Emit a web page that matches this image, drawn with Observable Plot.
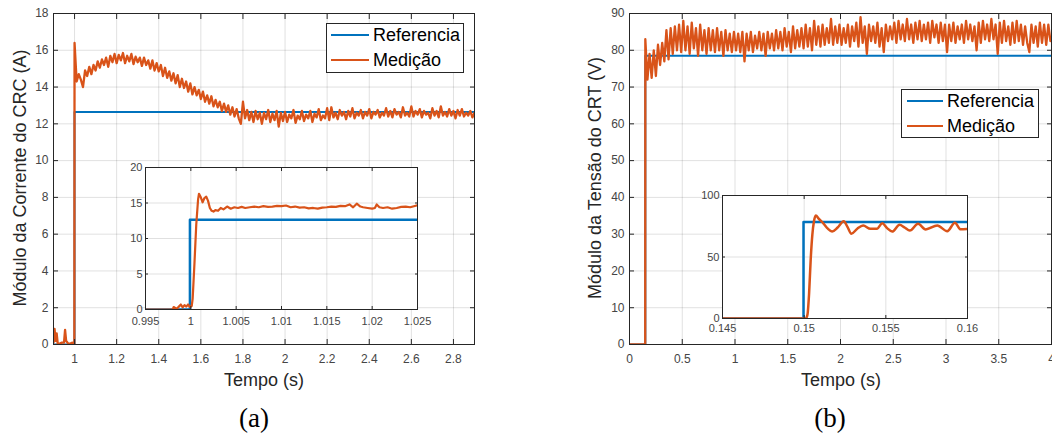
<!DOCTYPE html>
<html><head><meta charset="utf-8">
<script src="https://cdn.jsdelivr.net/npm/d3@7"></script>
<script src="https://cdn.jsdelivr.net/npm/@observablehq/plot@0.6"></script>
<style>
html,body{margin:0;padding:0;background:#fff;}
#wrap{position:relative;width:1052px;height:436px;overflow:hidden;font-family:"Liberation Sans",Arial,sans-serif;}
#wrap svg{position:absolute;max-width:none;}
.ylab{position:absolute;transform:translate(-50%,-50%) rotate(-90deg);white-space:nowrap;font-size:18px;color:#262626;line-height:1;}
.xlab{position:absolute;transform:translate(-50%,-50%);white-space:nowrap;font-size:18px;color:#262626;line-height:1;}
.cap{position:absolute;transform:translate(-50%,-50%);font-family:"Liberation Serif","Times New Roman",serif;font-size:27px;color:#000;line-height:1;}
.legend{position:absolute;background:#fff;border:1px solid #262626;box-sizing:border-box;}
.row{position:absolute;left:0;height:20px;display:flex;align-items:center;font-size:18px;color:#000;white-space:nowrap;}
.sw{display:inline-block;height:2.5px;margin-right:4px;}
</style></head><body><div id="wrap"></div>
<script>
// ---------- Panel (a): current ----------
const aXTicks = [1, 1.2, 1.4, 1.6, 1.8, 2, 2.2, 2.4, 2.6, 2.8];
const aYTicks = [0, 2, 4, 6, 8, 10, 12, 14, 16, 18];
const aRefT = [0.9, 0.9999, 0.9999, 2.9];
const aRefV = [0, 0, 12.65, 12.65];
const aMedPreT = [0.9, 0.905, 0.91, 0.915, 0.92, 0.93, 0.94, 0.95, 0.955, 0.96, 0.97, 0.98, 0.99, 0.999];
const aMedPreV = [0.1, 0.85, 0.2, 0.6, 0.05, 0.05, 0.1, 0.1, 0.8, 0.2, 0.05, 0.05, 0.1, 0.05];
const aMedStepT0 = 1.0, aMedStepDt = 0.01;
const aMedStepV = [
 16.4, 14.3, 14.7, 14.4, 14.0, 14.9, 14.6, 15.1, 14.7, 15.2,
 14.9, 15.4, 15.05, 15.5, 15.2, 15.6, 15.1, 15.7, 15.35, 15.8,
 15.3, 15.75, 15.45, 15.85, 15.3, 15.7, 15.4, 15.8, 15.25, 15.65,
 15.35, 15.6, 15.15, 15.6, 15.2, 15.45, 15.0, 15.45, 14.9, 15.3,
 14.85, 15.2, 14.6, 15.05, 14.5, 14.85, 14.35, 14.75, 14.2, 14.65,
 14.0, 14.45, 13.95, 14.3, 13.75, 14.2, 13.6, 14.0, 13.55, 13.85,
 13.35, 13.75, 13.2, 13.55, 13.1, 13.5, 12.95, 13.3, 12.9, 13.2,
 12.7, 13.1, 12.65, 13.0, 12.5, 12.9, 12.4, 12.8, 12.3, 12.0,
 13.2, 12.3, 12.75, 12.2, 12.65, 12.1, 12.7, 12.25, 12.6, 12.0,
 12.6, 12.25, 12.75, 12.1, 12.55, 12.2, 12.7, 11.85, 12.6, 12.15,
 12.65, 12.1, 12.5, 12.3, 12.75, 12.05, 12.45, 12.25, 12.7, 12.15,
 12.5, 12.3, 12.7, 12.1, 12.55, 12.35, 12.8, 12.2, 12.45, 12.3,
 12.85, 12.2, 12.9, 12.35, 12.6, 12.25, 12.75, 12.45, 12.65, 12.25,
 12.7, 12.4, 12.85, 12.3, 12.6, 12.45, 12.75, 12.3, 12.65, 12.45,
 12.8, 12.3, 12.65, 12.5, 12.75, 12.35, 12.6, 12.45, 12.85, 12.4,
 12.7, 12.35, 12.8, 12.5, 12.65, 12.35, 12.9, 12.45, 12.6, 12.4,
 12.95, 12.4, 12.7, 12.5, 12.8, 12.35, 12.7, 12.5, 12.6, 12.3,
 12.85, 12.45, 12.7, 12.35, 12.95, 12.45, 12.65, 12.4, 12.8, 12.45,
 12.7, 12.3, 12.75, 12.45, 12.8, 12.4, 12.6, 12.45, 12.7, 12.35,
 12.6];
// inset (a)
const aInsXTicks = [0.995, 1, 1.005, 1.01, 1.015, 1.02, 1.025];
const aInsYTicks = [0, 5, 10, 15, 20];
const aInsRefT = [0.995, 0.9999, 0.9999, 1.025];
const aInsRefV = [0, 0, 12.65, 12.65];
const aInsMedT = [0.995, 0.998, 0.9981, 0.9984, 0.9986, 0.9989, 0.9991, 0.9993, 0.9995, 0.9997, 0.9999, 1.0001, 1.0002, 1.0004, 1.0006, 1.0008, 1.0009, 1.0011, 1.0013, 1.0015, 1.0017, 1.0019, 1.0021, 1.0023, 1.0025, 1.0027, 1.003, 1.0033, 1.0036, 1.004, 1.0044, 1.0048, 1.0052, 1.0056, 1.006, 1.0065, 1.007, 1.0075, 1.008, 1.0085, 1.009, 1.0095, 1.01, 1.0105, 1.011, 1.0115, 1.012, 1.0125, 1.013, 1.0135, 1.014, 1.0145, 1.015, 1.0155, 1.016, 1.0165, 1.017, 1.0175, 1.0179, 1.0183, 1.0187, 1.019, 1.0195, 1.02, 1.0203, 1.0205, 1.0208, 1.0212, 1.0217, 1.0222, 1.0227, 1.0232, 1.0237, 1.0242, 1.0246, 1.025];
const aInsMedV = [0, 0, 0.35, 0.1, 0.3, 0.7, 0.3, 0.6, 0.4, 0.7, 0.35, 0.5, 1.5, 6.5, 12, 15.5, 16.3, 15.8, 15.1, 15.7, 15.9, 15.3, 14.3, 13.9, 13.8, 14.0, 13.9, 14.3, 14.1, 14.5, 14.2, 14.4, 14.3, 14.45, 14.3, 14.4, 14.5, 14.4, 14.55, 14.45, 14.5, 14.6, 14.55, 14.65, 14.4, 14.5, 14.35, 14.4, 14.25, 14.3, 14.2, 14.35, 14.4, 14.5, 14.45, 14.6, 14.55, 14.8, 14.4, 14.9, 14.5, 14.4, 14.3, 14.2, 14.3, 14.8, 14.4, 14.3, 14.4, 14.2, 14.3, 14.45, 14.5, 14.4, 14.55, 14.7];

// ---------- Panel (b): voltage ----------
const bXTicks = [0, 0.5, 1, 1.5, 2, 2.5, 3, 3.5, 4];
const bYTicks = [0, 10, 20, 30, 40, 50, 60, 70, 80, 90];
const bRefT = [0, 0.15, 0.15, 4];
const bRefV = [0, 0, 78.5, 78.5];
const bMedPreT = [0, 0.149];
const bMedPreV = [0, 0];
const bMedStepT0 = 0.15, bMedStepDt = 0.02;
const bMedStepV = [
 83, 72, 79, 72.5, 80, 73, 81.5, 76, 82, 77,
 85.5, 77.5, 86, 79, 86.5, 80, 87, 79.5, 88, 80,
 86.5, 79, 87.5, 80.5, 86, 78.5, 87, 80, 85.5, 79,
 86, 80, 85.5, 79.5, 86, 80, 85, 78.5, 85.5, 80,
 84.5, 79.5, 85, 80, 84.5, 79.5, 85, 77, 84.5, 80,
 85, 79.5, 84, 80.5, 85, 80, 84.5, 78.5, 85, 80.5,
 84.5, 80, 85.5, 80.5, 85, 80, 86, 81, 85, 79.5,
 86.5, 80.5, 85.5, 81, 86, 80.5, 87, 81, 86, 80,
 88, 81.5, 86.5, 81, 87, 81.5, 86, 82, 88.5, 81.5,
 86.5, 82, 87, 81.5, 86, 82, 87, 81, 86.5, 82.5,
 87.5, 81, 89, 82, 86.5, 79, 87, 82.5, 86.5, 82,
 87.5, 81, 86, 79.5, 87, 82.5, 86.5, 83, 87.5, 82,
 88, 83, 87, 82.5, 88.5, 83, 87, 82, 87.5, 83,
 88, 82.5, 87, 83, 87.5, 82, 88, 83.5, 87, 82,
 87.5, 82.5, 87, 79.5, 87, 82.5, 87.5, 82, 86.5, 83,
 87, 82, 88, 83, 87, 82.5, 86.5, 80, 87.5, 82,
 88, 83, 87, 82.5, 88.5, 83, 87, 79, 87.5, 82,
 88, 82.5, 86.5, 81.5, 87.5, 82, 88, 82.5, 87, 81.5,
 86.5, 82, 79.5, 87, 82, 86.5, 81, 87.5, 82, 87,
 81.5, 87, 82.5];
// inset (b)
const bInsXTicks = [0.145, 0.15, 0.155, 0.16];
const bInsYTicks = [0, 50, 100];
const bInsRefT = [0.145, 0.14996, 0.14996, 0.16];
const bInsRefV = [0, 0, 78.5, 78.5];
const bInsMedT = [0.145, 0.1501, 0.1502, 0.1503, 0.1504, 0.1505, 0.1506, 0.15071, 0.1509, 0.1512, 0.15145, 0.15171, 0.15205, 0.15242, 0.15265, 0.15289, 0.15325, 0.15361, 0.15406, 0.15447, 0.15478, 0.15508, 0.15539, 0.15584, 0.15615, 0.15647, 0.15697, 0.15744, 0.15815, 0.15876, 0.15923, 0.15958, 0.16];
const bInsMedV = [0, 0, 3, 20, 48, 68, 79, 83.7, 81, 77, 73, 70.7, 74, 79.1, 74.5, 68.9, 73, 75.6, 72.9, 73, 77.5, 73.5, 70.7, 76.2, 74, 71.5, 77, 72.4, 75.6, 71, 77.8, 72.5, 72.9];

const legendLabels = ["Referencia", "Medição"];
const BLUE = "#0072BD", ORANGE = "#D95319";

// ---------- helpers ----------
const zip = (T, V) => T.slice(0, Math.min(T.length, V.length)).map((t, i) => ({t, v: V[i]}));
const sampled = (t0, dt, V) => V.map((v, i) => ({t: t0 + i * dt, v}));

function makePlot(c) {
  const fmt = d => String(d);
  const marks = [];
  if (c.inset) marks.push(Plot.frame({fill: "#fff", stroke: "none"}));
  marks.push(
    Plot.gridX(c.xTicks, {stroke: "#000", strokeOpacity: 0.12}),
    Plot.gridY(c.yTicks, {stroke: "#000", strokeOpacity: 0.12})
  );
  for (const s of c.series) {
    marks.push(Plot.line(s.data, {x: "t", y: "v", stroke: s.color, strokeWidth: s.width, curve: s.curve || "linear", clip: true}));
  }
  marks.push(
    Plot.axisX(c.xTicks, {anchor: "bottom", tickSize: -c.tick, tickPadding: c.xPad + c.tick, tickFormat: fmt, label: null, stroke: "#262626", fill: "#454545", fontSize: c.fs}),
    Plot.axisX(c.xTicks, {anchor: "top", tickSize: -c.tick, tickFormat: () => "", label: null, stroke: "#262626"}),
    Plot.axisY(c.yTicks, {anchor: "left", tickSize: -c.tick, tickPadding: c.yPad + c.tick, tickFormat: fmt, label: null, stroke: "#262626", fill: "#454545", fontSize: c.fs}),
    Plot.axisY(c.yTicks, {anchor: "right", tickSize: -c.tick, tickFormat: () => "", label: null, stroke: "#262626"}),
    Plot.frame({stroke: "#262626", strokeWidth: 1})
  );
  const svg = Plot.plot({
    width: c.width, height: c.height,
    marginLeft: c.ml, marginRight: c.mr, marginTop: c.mt, marginBottom: c.mb,
    x: {domain: c.xDomain}, y: {domain: c.yDomain},
    style: {background: "transparent", fontFamily: '"Liberation Sans", Arial, sans-serif', fontSize: c.fs + "px", overflow: "visible"},
    marks
  });
  svg.style.left = c.left + "px";
  svg.style.top = c.top + "px";
  return svg;
}

const wrap = document.getElementById("wrap");

// main (a)
wrap.appendChild(makePlot({
  left: 0, top: 0, width: 480, height: 400, ml: 53, mr: 6, mt: 13, mb: 56,
  xDomain: [0.9, 2.9], yDomain: [0, 18], xTicks: aXTicks, yTicks: aYTicks,
  tick: 5, xPad: 10, yPad: 5, fs: 12,
  series: [
    {data: zip(aRefT, aRefV), color: BLUE, width: 2},
    {data: zip(aMedPreT, aMedPreV).concat(sampled(aMedStepT0, aMedStepDt, aMedStepV)), color: ORANGE, width: 2.3}
  ]
}));
// inset (a)
wrap.appendChild(makePlot({
  inset: true, left: 105, top: 160, width: 330, height: 180, ml: 40, mr: 18, mt: 7, mb: 31,
  xDomain: [0.995, 1.025], yDomain: [0, 20], xTicks: aInsXTicks, yTicks: aInsYTicks,
  tick: 3, xPad: 8, yPad: 3, fs: 11,
  series: [
    {data: zip(aInsRefT, aInsRefV), color: BLUE, width: 2.5},
    {data: zip(aInsMedT, aInsMedV), color: ORANGE, width: 2.2}
  ]
}));
// main (b)
wrap.appendChild(makePlot({
  left: 560, top: 0, width: 492, height: 400, ml: 69, mr: 1, mt: 13, mb: 56,
  xDomain: [0, 4], yDomain: [0, 90], xTicks: bXTicks, yTicks: bYTicks,
  tick: 5, xPad: 10, yPad: 5, fs: 12,
  series: [
    {data: zip(bRefT, bRefV), color: BLUE, width: 2},
    {data: zip(bMedPreT, bMedPreV).concat(sampled(bMedStepT0, bMedStepDt, bMedStepV)), color: ORANGE, width: 2.3}
  ]
}));
// inset (b)
wrap.appendChild(makePlot({
  inset: true, left: 685, top: 185, width: 300, height: 150, ml: 37, mr: 18, mt: 10, mb: 17,
  xDomain: [0.145, 0.16], yDomain: [0, 100], xTicks: bInsXTicks, yTicks: bInsYTicks,
  tick: 3, xPad: 6, yPad: 3, fs: 11,
  series: [
    {data: zip(bInsRefT, bInsRefV), color: BLUE, width: 2.5},
    {data: zip(bInsMedT, bInsMedV), color: ORANGE, width: 2.5, curve: "monotone-x"}
  ]
}));

// text labels
function addDiv(cls, text, x, y) {
  const d = document.createElement("div");
  d.className = cls; d.textContent = text;
  d.style.left = x + "px"; d.style.top = y + "px";
  wrap.appendChild(d);
}
addDiv("ylab", "Módulo da Corrente do CRC (A)", 20, 178);
addDiv("ylab", "Módulo da Tensão do CRT (V)", 595, 178);
addDiv("xlab", "Tempo (s)", 264, 380);
addDiv("xlab", "Tempo (s)", 841, 380);
addDiv("cap", "(a)", 254, 418);
addDiv("cap", "(b)", 830, 418);

function addLegend(x, y, w, h, swLeft, swW, rowCenters) {
  const lg = document.createElement("div");
  lg.className = "legend";
  Object.assign(lg.style, {left: x + "px", top: y + "px", width: w + "px", height: h + "px"});
  [BLUE, ORANGE].forEach((col, i) => {
    const r = document.createElement("div");
    r.className = "row";
    r.style.top = (rowCenters[i] - 10) + "px";
    r.style.paddingLeft = swLeft + "px";
    const sw = document.createElement("span");
    sw.className = "sw"; sw.style.width = swW + "px"; sw.style.background = col;
    r.appendChild(sw);
    r.appendChild(document.createTextNode(legendLabels[i]));
    lg.appendChild(r);
  });
  wrap.appendChild(lg);
}
addLegend(326, 23, 138, 50, 4, 38, [11, 36]);
addLegend(901, 89, 138, 49, 5, 36, [11, 36]);
</script></body></html>
